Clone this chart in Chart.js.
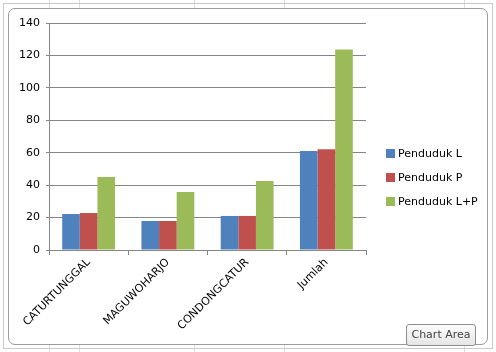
<!DOCTYPE html>
<html>
<head>
<meta charset="utf-8">
<script src="https://cdn.jsdelivr.net/npm/chart.js@4/dist/chart.umd.min.js"></script>
<style>
	html, body { margin:0; padding:0; }
	body {
		width:496px; height:352px; position:relative; overflow:hidden;
		background:#ffffff;
		font-family:"DejaVu Sans", sans-serif;
	}
	.sheet-v { position:absolute; top:0; bottom:0; width:1px; background:#dadcdd; }
	.outer {
		position:absolute; left:3px; top:3px; width:488px; height:344px;
		border:1px solid #c9c9c9; background:transparent;
	}
	.inner {
		position:absolute; left:8px; top:8px; width:478px; height:335px;
		border:1px solid #9c9c9c; border-radius:7px; background:#ffffff;
	}
	canvas#chart { position:absolute; left:0; top:0; }
	.legend { position:absolute; left:386px; top:147px; font-size:11px; color:#000; }
	.legend div { height:24px; line-height:14px; white-space:nowrap; }
	.legend span.sw { display:inline-block; width:9px; height:9px; margin-right:3px; vertical-align:-1px; }
	.tip {
		position:absolute; left:406px; top:324px; width:68px; height:20px;
		border:1px solid #8d8d8d; border-radius:3px;
		background:linear-gradient(#fbfbfb, #e6e6e6);
		font:11px "DejaVu Sans", sans-serif; color:#444; text-align:center; line-height:20px;
	}
</style>
</head>
<body>
<div class="sheet-v" style="left:49px"></div>
<div class="sheet-v" style="left:79px"></div>
<div class="sheet-v" style="left:194px"></div>
<div class="sheet-v" style="left:284px"></div>
<div class="sheet-v" style="left:464px"></div>
<div class="outer"></div>
<div class="inner"></div>
<canvas id="chart" width="496" height="352"></canvas>
<div class="legend" id="legend"></div>
<div class="tip">Chart Area</div>

<script>
// data
const categories = ["CATURTUNGGAL", "MAGUWOHARJO", "CONDONGCATUR", "Jumlah"];
const pendudukL = [22.2, 17.9, 21.0, 61.1];
const pendudukP = [22.8, 17.9, 21.0, 62.2];
const pendudukLP = [45.0, 35.8, 42.6, 123.6];
const seriesNames = ["Penduduk L", "Penduduk P", "Penduduk L+P"];
const seriesColors = ["#4f81bd", "#c0504d", "#9bbb59"];
const yMax = 140;
const yStep = 20;

const font = { family: "DejaVu Sans", size: 11 };
const lineColor = "#868686";

const datasets = [pendudukL, pendudukP, pendudukLP].map((vals, i) => ({
	label: seriesNames[i],
	data: vals,
	backgroundColor: seriesColors[i],
	borderWidth: 0,
	categoryPercentage: 0.667,
	barPercentage: 1
}));

// legend as plain html, next to the plot
const legendEl = document.getElementById("legend");
seriesNames.forEach((name, i) => {
	const row = document.createElement("div");
	row.innerHTML = '<span class="sw" style="background:' + seriesColors[i] + '"></span>' + name;
	legendEl.appendChild(row);
});

new Chart(document.getElementById("chart"), {
	type: "bar",
	data: { labels: categories, datasets: datasets },
	options: {
		responsive: false,
		animation: false,
		layout: { padding: { left: 9, top: 23, right: 130, bottom: 0 } },
		plugins: {
			legend: { display: false },
			tooltip: { enabled: false }
		},
		scales: {
			x: {
				offset: true,
				grid: { display: true, drawOnChartArea: false, drawTicks: true, tickLength: 5, color: lineColor, offset: true },
				border: { color: lineColor, width: 1 },
				ticks: { color: "#000", font: font, minRotation: 45, maxRotation: 45, padding: 1, autoSkip: false },
				afterFit: (scale) => { scale.height = 102; }
			},
			y: {
				min: 0, max: yMax,
				grid: { color: lineColor, tickLength: 3, drawTicks: true },
				border: { color: lineColor, width: 1 },
				ticks: { stepSize: yStep, color: "#000", font: font, padding: 6 },
				afterFit: (scale) => { scale.width = 40; }
			}
		}
	}
});
</script>
</body>
</html>
